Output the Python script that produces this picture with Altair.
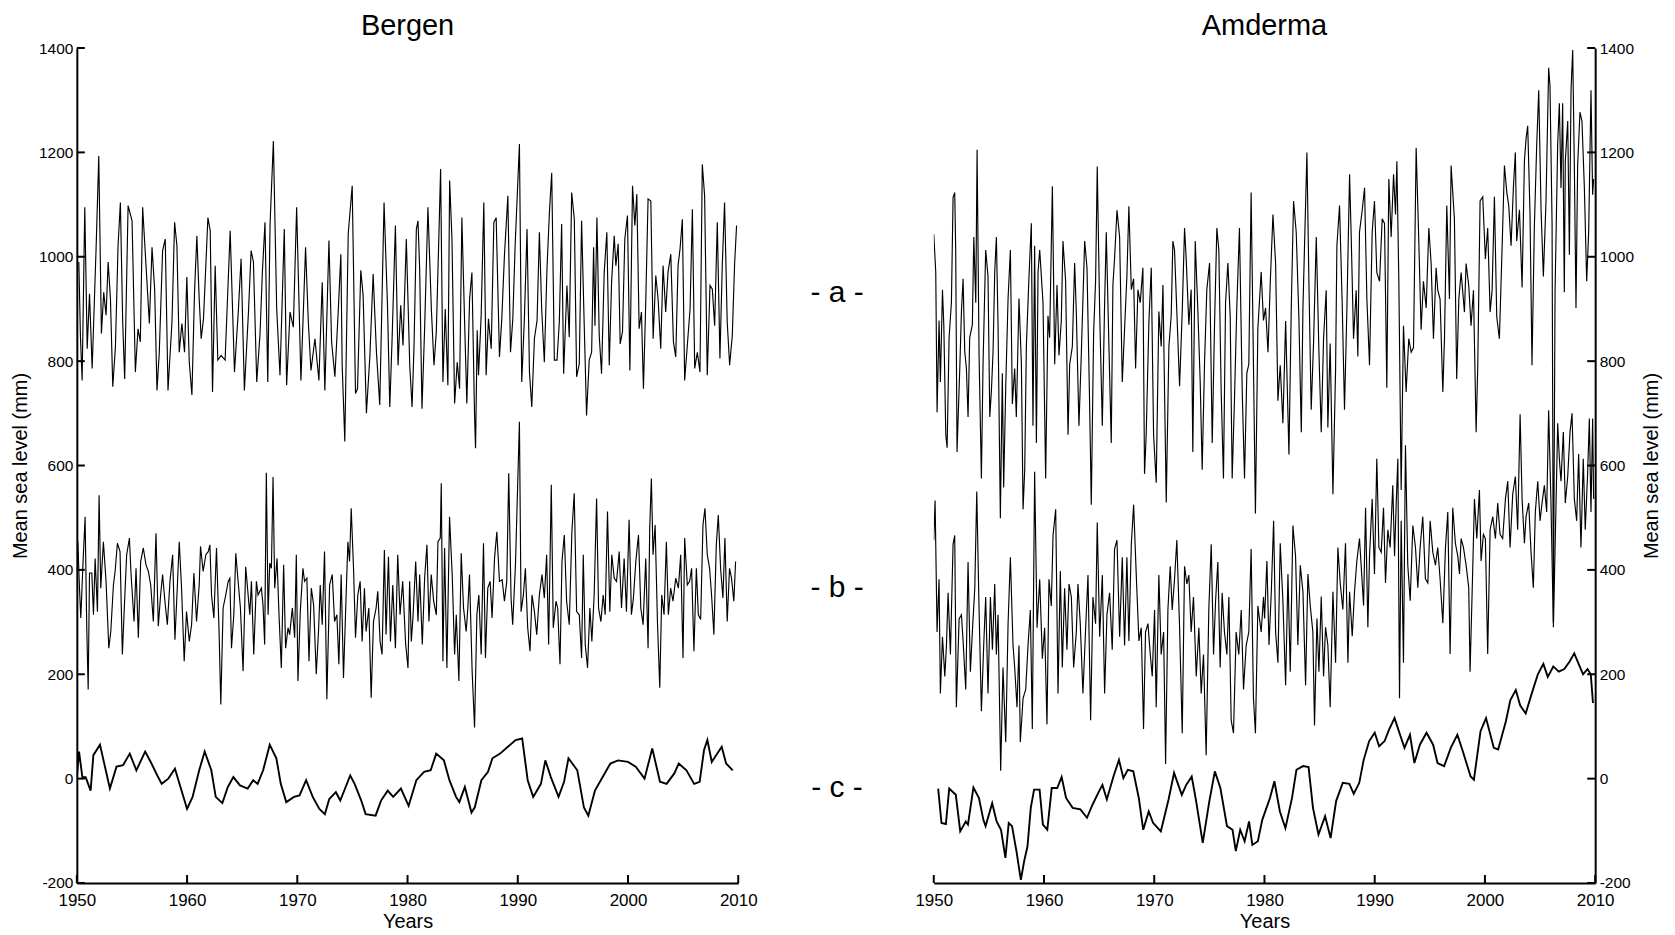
import altair as alt
import pandas as pd

# ---------------- axis values ----------------
year_ticks = [1950, 1960, 1970, 1980, 1990, 2000, 2010]
level_ticks = [-200, 0, 200, 400, 600, 800, 1000, 1200, 1400]
panel_titles = ["Bergen", "Amderma"]
curve_labels = ["- a -", "- b -", "- c -"]
curve_label_levels = [931, 366, -18]

# ---------------- Bergen ----------------
bergen_a_years = [1950.18, 1950.33, 1950.48, 1950.72, 1950.94, 1951.15, 1951.39, 1951.75, 1951.99, 1952.23, 1952.44, 1952.65, 1952.84, 1953.05, 1953.26, 1953.50, 1953.74, 1953.95, 1954.16, 1954.34, 1954.65, 1955.01, 1955.31, 1955.55, 1955.76, 1955.97, 1956.58, 1956.82, 1957.06, 1957.27, 1957.48, 1957.78, 1958.02, 1958.27, 1958.63, 1958.87, 1959.08, 1959.29, 1959.53, 1959.77, 1959.98, 1960.20, 1960.44, 1960.68, 1960.89, 1961.10, 1961.28, 1961.49, 1961.89, 1962.10, 1962.31, 1962.55, 1962.79, 1963.09, 1963.45, 1963.91, 1964.30, 1964.66, 1964.90, 1965.20, 1965.57, 1965.81, 1966.02, 1966.32, 1966.62, 1966.83, 1967.07, 1967.32, 1967.53, 1967.83, 1968.13, 1968.43, 1968.82, 1969.03, 1969.34, 1969.64, 1969.94, 1970.33, 1970.75, 1971.00, 1971.24, 1971.60, 1971.96, 1972.26, 1972.50, 1972.87, 1973.11, 1973.41, 1973.71, 1973.95, 1974.07, 1974.31, 1974.62, 1974.98, 1975.28, 1975.46, 1975.76, 1975.97, 1976.27, 1976.58, 1976.88, 1977.18, 1977.48, 1977.87, 1978.18, 1978.39, 1978.60, 1978.90, 1979.14, 1979.38, 1979.59, 1979.89,
                  1980.20, 1980.41, 1980.59, 1980.80, 1980.95, 1981.10, 1981.31, 1981.55, 1981.85, 1982.16, 1982.40, 1982.61, 1982.82, 1983.00, 1983.21, 1983.42, 1983.66, 1983.82, 1984.03, 1984.27, 1984.51, 1984.72, 1984.93, 1985.17, 1985.38, 1985.63, 1985.84, 1986.08, 1986.17, 1986.32, 1986.44, 1986.68, 1986.92, 1987.13, 1987.34, 1987.59, 1987.83, 1988.04, 1988.34, 1988.55, 1988.79, 1989.10, 1989.34, 1989.55, 1989.76, 1990.15, 1990.36, 1990.60, 1990.84, 1991.06, 1991.27, 1991.51, 1991.75, 1991.96, 1992.17, 1992.41, 1992.65, 1992.87, 1993.08, 1993.32, 1993.56, 1993.77, 1993.98, 1994.16, 1994.46, 1994.67, 1994.89, 1995.13, 1995.34, 1995.58, 1995.79, 1996.03, 1996.24, 1996.48, 1996.70, 1996.88, 1997.00, 1997.18, 1997.39, 1997.60, 1997.84, 1998.08, 1998.30, 1998.51, 1998.75, 1998.90, 1999.11, 1999.29, 1999.50, 1999.71, 1999.95, 2000.17, 2000.41, 2000.62, 2000.80, 2001.01, 2001.22, 2001.40, 2001.61, 2001.82, 2002.07, 2002.28, 2002.52, 2002.73, 2002.97, 2003.18, 2003.42, 2003.63, 2003.88, 2004.12, 2004.33, 2004.54, 2004.72, 2004.93, 2005.14, 2005.38, 2005.63, 2005.84, 2006.05, 2006.29, 2006.53, 2006.74, 2006.95, 2007.19, 2007.44, 2007.65, 2007.86, 2008.10, 2008.34, 2008.55, 2008.76, 2009.00, 2009.22, 2009.46, 2009.67, 2009.85]
bergen_a_values = [990, 846, 763, 1095, 824, 929, 786, 1018, 1193, 853, 932, 888, 990, 919, 751, 827, 1021, 1104, 875, 766, 1098, 1069, 779, 862, 837, 1095, 872, 1018, 938, 744, 817, 1012, 1034, 744, 875, 1066, 1021, 817, 872, 817, 961, 798, 735, 935, 1040, 919, 843, 881, 1075, 1050, 741, 983, 802, 811, 802, 1050, 779, 900, 996, 744, 894, 1012, 990, 760, 853, 970, 1066, 760, 1063, 1222, 900, 773, 1053, 754, 894, 865, 1095, 763, 1018, 875, 782, 843, 763, 951, 744, 1031, 837, 770, 894, 1005, 792, 646, 1044, 1136, 738, 747, 974, 926, 700, 808, 967, 817, 716, 1104, 907, 712, 843, 1060, 792, 907, 830, 1034,
                   792, 712, 830, 1053, 1069, 977, 709, 862, 1095, 900, 792, 856, 1021, 1168, 760, 900, 754, 1146, 1034, 719, 798, 747, 1075, 881, 719, 919, 970, 696, 633, 859, 773, 888, 1104, 773, 881, 824, 1066, 1075, 808, 881, 1002, 1117, 817, 881, 1021, 1216, 760, 881, 1053, 779, 712, 843, 878, 1047, 900, 798, 977, 1085, 1161, 802, 802, 875, 1063, 776, 945, 846, 1123, 1072, 770, 795, 1069, 868, 696, 802, 817, 1018, 868, 1075, 849, 776, 970, 1047, 792, 951, 1040, 983, 1025, 833, 856, 1034, 1079, 782, 1136, 1060, 1120, 862, 894, 747, 913, 1111, 1107, 843, 964, 919, 824, 983, 894, 970, 1005, 837, 808, 983, 1015, 1072, 763, 830, 900, 1091, 786, 817, 779, 1177, 1117, 773, 945, 938, 868, 1066, 805, 983, 1104, 875, 792, 849, 986, 1060]

bergen_b_years = [1950.09, 1950.24, 1950.36, 1950.54, 1950.75, 1950.90, 1951.03, 1951.15, 1951.36, 1951.51, 1951.66, 1951.87, 1952.02, 1952.17, 1952.41, 1952.65, 1952.90, 1953.08, 1953.32, 1953.47, 1953.68, 1953.92, 1954.13, 1954.28, 1954.52, 1954.77, 1954.92, 1955.19, 1955.37, 1955.58, 1955.79, 1956.03, 1956.27, 1956.49, 1956.70, 1956.94, 1957.18, 1957.39, 1957.60, 1957.78, 1957.99, 1958.21, 1958.45, 1958.69, 1958.90, 1959.11, 1959.29, 1959.50, 1959.74, 1959.95, 1960.20, 1960.41, 1960.62, 1960.86, 1961.10, 1961.22, 1961.46, 1961.70, 1961.92, 1962.07, 1962.22, 1962.43, 1962.67, 1962.91, 1963.06, 1963.27, 1963.51, 1963.73, 1963.88, 1964.03, 1964.24, 1964.42, 1964.63, 1964.84, 1965.08, 1965.32, 1965.54, 1965.69, 1965.84, 1966.05, 1966.29, 1966.44, 1966.74, 1966.89, 1967.04, 1967.19, 1967.35, 1967.50, 1967.65, 1967.80, 1967.95, 1968.16, 1968.34, 1968.55, 1968.76, 1968.94, 1969.16, 1969.31, 1969.55, 1969.76, 1969.91, 1970.06, 1970.27, 1970.51, 1970.66, 1970.87, 1971.06, 1971.27, 1971.48, 1971.72, 1971.93, 1972.08, 1972.26, 1972.47, 1972.68, 1972.93, 1973.17, 1973.38, 1973.59, 1973.77, 1973.98, 1974.19, 1974.43, 1974.59, 1974.74, 1974.89, 1975.10, 1975.28, 1975.49, 1975.70, 1975.88, 1976.09, 1976.24, 1976.49, 1976.70, 1976.91, 1977.15, 1977.30, 1977.51, 1977.69, 1977.90, 1978.05, 1978.27, 1978.45, 1978.66, 1978.90, 1979.11, 1979.32, 1979.56,
                  1979.83, 1980.04, 1980.19, 1980.34, 1980.49, 1980.74, 1980.95, 1981.10, 1981.34, 1981.55, 1981.76, 1981.94, 1982.15, 1982.37, 1982.61, 1982.76, 1982.97, 1983.06, 1983.21, 1983.36, 1983.57, 1983.81, 1984.05, 1984.27, 1984.42, 1984.66, 1984.87, 1985.08, 1985.32, 1985.47, 1985.62, 1985.86, 1986.08, 1986.29, 1986.47, 1986.68, 1986.89, 1987.07, 1987.28, 1987.49, 1987.67, 1987.89, 1988.10, 1988.34, 1988.58, 1988.79, 1989.00, 1989.18, 1989.39, 1989.54, 1989.79, 1990.15, 1990.30, 1990.51, 1990.69, 1990.90, 1991.11, 1991.29, 1991.51, 1991.72, 1991.96, 1992.20, 1992.41, 1992.62, 1992.80, 1993.04, 1993.22, 1993.47, 1993.62, 1993.83, 1994.01, 1994.22, 1994.43, 1994.67, 1994.91, 1995.12, 1995.34, 1995.58, 1995.79, 1995.94, 1996.12, 1996.33, 1996.54, 1996.72, 1996.93, 1997.15, 1997.33, 1997.54, 1997.75, 1997.93, 1998.14, 1998.35, 1998.53, 1998.75, 1998.96, 1999.20, 1999.41, 1999.65, 1999.86, 2000.10, 2000.31, 2000.49, 2000.71, 2000.95, 2001.16, 2001.37, 2001.61, 2001.82, 2001.97, 2002.12, 2002.27, 2002.46, 2002.67, 2002.88, 2003.06, 2003.27, 2003.48, 2003.66, 2003.87, 2004.08, 2004.33, 2004.57, 2004.78, 2004.99, 2005.14, 2005.38, 2005.59, 2005.77, 2005.98, 2006.20, 2006.38, 2006.59, 2006.80, 2006.98, 2007.19, 2007.40, 2007.58, 2007.79, 2008.01, 2008.19, 2008.40, 2008.61, 2008.79, 2009.00, 2009.21, 2009.39, 2009.60, 2009.76]
bergen_b_values = [454, 365, 308, 403, 502, 289, 171, 394, 394, 314, 422, 320, 543, 365, 454, 378, 250, 282, 371, 397, 451, 435, 238, 314, 429, 461, 391, 301, 403, 270, 416, 442, 410, 397, 371, 301, 470, 292, 352, 391, 340, 295, 378, 429, 266, 365, 454, 365, 225, 320, 263, 295, 394, 301, 371, 445, 397, 429, 435, 448, 352, 308, 442, 276, 142, 327, 352, 378, 384, 250, 314, 432, 378, 327, 206, 406, 352, 314, 378, 238, 378, 352, 365, 333, 257, 586, 314, 413, 403, 578, 365, 422, 314, 212, 410, 250, 289, 276, 327, 270, 429, 187, 320, 403, 378, 384, 225, 365, 333, 200, 285, 371, 295, 435, 152, 371, 391, 301, 314, 219, 391, 193, 352, 454, 416, 518, 403, 270, 352, 378, 263, 365, 282, 327, 155, 301, 327, 359, 263, 238, 438, 276, 425, 263, 371, 250, 429, 314, 378,
                   257, 212, 378, 263, 308, 416, 301, 391, 257, 384, 448, 301, 391, 340, 314, 454, 461, 566, 225, 442, 212, 502, 391, 238, 314, 187, 432, 327, 282, 327, 391, 206, 98, 314, 352, 238, 451, 231, 365, 378, 308, 422, 473, 378, 381, 340, 378, 585, 346, 295, 410, 684, 320, 352, 403, 289, 244, 352, 320, 276, 352, 391, 346, 429, 257, 563, 289, 340, 327, 219, 416, 467, 340, 295, 473, 547, 320, 314, 231, 429, 257, 212, 327, 263, 352, 537, 327, 301, 352, 314, 512, 320, 429, 384, 378, 435, 327, 422, 320, 496, 314, 346, 416, 467, 327, 295, 422, 250, 480, 575, 429, 486, 301, 174, 352, 314, 454, 314, 365, 340, 384, 365, 429, 231, 461, 371, 378, 403, 244, 403, 314, 305, 486, 518, 429, 403, 352, 276, 448, 505, 403, 346, 461, 301, 403, 384, 340, 416]

bergen_c_years = [1950.0, 1950.2, 1950.5, 1950.8, 1951.25, 1951.5, 1952.1, 1953.0, 1953.6, 1954.2, 1954.8, 1955.4, 1956.2, 1956.7, 1957.3, 1957.7, 1958.3, 1958.9, 1959.4, 1960.0, 1960.5, 1961.1, 1961.6, 1962.2, 1962.6, 1963.2, 1963.7, 1964.2, 1964.8, 1965.5, 1966.0, 1966.4, 1966.9, 1967.5, 1968.1, 1968.5, 1969.0, 1969.7, 1970.2, 1970.8, 1971.4, 1972.0, 1972.5, 1972.9, 1973.5, 1973.9, 1974.8, 1975.2, 1975.8, 1976.2, 1977.1, 1977.6, 1978.2, 1978.7, 1979.4, 1980.1, 1980.8, 1981.5, 1982.1, 1982.6, 1983.3, 1983.8, 1984.4, 1984.7, 1985.2, 1985.8, 1986.1, 1986.7, 1987.3, 1987.7, 1988.4, 1989.1, 1989.8, 1990.4, 1990.9, 1991.4, 1992.1, 1992.5, 1993.0, 1993.7, 1994.2, 1994.6, 1995.4, 1996.0, 1996.4, 1997.0, 1997.7, 1998.4, 1999.1, 2000.0, 2000.7, 2001.5, 2002.2, 2002.9, 2003.5, 2004.2, 2004.6, 2005.3, 2006.0, 2006.5, 2006.9, 2007.2, 2007.6, 2008.1, 2008.5, 2008.9, 2009.5]
bergen_c_values = [3, 52, 3, 3, -23, 45, 65, -19, 23, 26, 48, 16, 52, 32, 6, -10, 0, 19, -16, -58, -35, 16, 52, 16, -35, -47, -16, 3, -13, -19, -3, -10, 16, 65, 39, -10, -45, -35, -32, -3, -35, -58, -68, -39, -26, -42, 6, -10, -42, -68, -71, -42, -23, -35, -19, -52, -3, 13, 16, 48, 35, -3, -35, -45, -16, -65, -55, -3, 13, 39, 48, 61, 74, 77, -3, -35, -10, 35, 3, -35, -6, 39, 16, -55, -71, -23, 3, 29, 35, 32, 23, 0, 58, -6, -10, 10, 29, 16, -10, -6, 55, 74, 32, 48, 61, 29, 16]

# ---------------- Amderma ----------------
amderma_a_years = [1950.00, 1950.18, 1950.30, 1950.48, 1950.60, 1950.79, 1950.91, 1951.09, 1951.21, 1951.39, 1951.60, 1951.75, 1951.90, 1951.99, 1952.11, 1952.36, 1952.51, 1952.66, 1952.81, 1952.96, 1953.11, 1953.26, 1953.50, 1953.63, 1953.81, 1953.93, 1954.11, 1954.32, 1954.47, 1954.71, 1954.92, 1955.08, 1955.23, 1955.38, 1955.53, 1955.68, 1955.83, 1956.04, 1956.22, 1956.34, 1956.53, 1956.74, 1956.95, 1957.13, 1957.34, 1957.49, 1957.73, 1957.95, 1958.10, 1958.25, 1958.40, 1958.64, 1958.85, 1959.00, 1959.15, 1959.31, 1959.46, 1959.61, 1959.91, 1960.15, 1960.36, 1960.51, 1960.76, 1960.97, 1961.18, 1961.36, 1961.57, 1961.72, 1961.96, 1962.18, 1962.33, 1962.57, 1962.78, 1962.93, 1963.17, 1963.38, 1963.69, 1963.90, 1964.14, 1964.29, 1964.50, 1964.68, 1964.83, 1965.05, 1965.29, 1965.50, 1965.65, 1965.89, 1966.10, 1966.25, 1966.40, 1966.62, 1966.86, 1967.10, 1967.31, 1967.52, 1967.70, 1967.92, 1968.13, 1968.31, 1968.52, 1968.73, 1968.97, 1969.12, 1969.27, 1969.52, 1969.73, 1969.94, 1970.18, 1970.42, 1970.63, 1970.79, 1971.09, 1971.33, 1971.54, 1971.69, 1971.84, 1972.05, 1972.30, 1972.54, 1972.75, 1972.90, 1973.14, 1973.35, 1973.50, 1973.72, 1973.96, 1974.17, 1974.35, 1974.56, 1974.77, 1975.02, 1975.26, 1975.47, 1975.68, 1975.86, 1976.07, 1976.28, 1976.47, 1976.68, 1976.89, 1977.07, 1977.28, 1977.49, 1977.73, 1977.98, 1978.19, 1978.40, 1978.58, 1978.79, 1979.00, 1979.18, 1979.40, 1979.70, 1979.91,
                   1980.10, 1980.32, 1980.53, 1980.77, 1981.01, 1981.22, 1981.43, 1981.67, 1981.92, 1982.22, 1982.43, 1982.64, 1982.88, 1983.12, 1983.34, 1983.49, 1983.85, 1984.03, 1984.24, 1984.45, 1984.70, 1984.94, 1985.15, 1985.36, 1985.60, 1985.75, 1985.96, 1986.21, 1986.45, 1986.57, 1986.81, 1987.05, 1987.26, 1987.48, 1987.72, 1987.87, 1988.08, 1988.32, 1988.47, 1988.62, 1988.87, 1989.08, 1989.29, 1989.53, 1989.77, 1989.98, 1990.19, 1990.44, 1990.68, 1990.89, 1991.10, 1991.28, 1991.49, 1991.71, 1991.89, 1992.01, 1992.19, 1992.40, 1992.61, 1992.85, 1993.09, 1993.31, 1993.52, 1993.76, 1994.00, 1994.21, 1994.42, 1994.67, 1994.91, 1995.12, 1995.33, 1995.57, 1995.72, 1995.93, 1996.18, 1996.33, 1996.54, 1996.78, 1996.93, 1997.23, 1997.44, 1997.63, 1997.84, 1998.14, 1998.29, 1998.53, 1998.74, 1998.96, 1999.20, 1999.35, 1999.56, 1999.80, 2000.04, 2000.25, 2000.47, 2000.65, 2000.86, 2001.07, 2001.31, 2001.55, 2001.77, 2001.98, 2002.16, 2002.37, 2002.58, 2002.76, 2002.88, 2003.13, 2003.37, 2003.58, 2003.73, 2003.88, 2004.09, 2004.27, 2004.48, 2004.70, 2004.88, 2005.09, 2005.30, 2005.54, 2005.78, 2005.90, 2006.09, 2006.21, 2006.36, 2006.60, 2006.75, 2006.90, 2007.05, 2007.20, 2007.29, 2007.51, 2007.66, 2007.81, 2007.96, 2008.11, 2008.26, 2008.41, 2008.62, 2008.80, 2009.02, 2009.23, 2009.41, 2009.62, 2009.77, 2009.86]
amderma_a_values = [1043, 971, 702, 878, 760, 937, 870, 659, 634, 845, 912, 1114, 1123, 1013, 626, 786, 895, 958, 819, 786, 693, 845, 870, 1038, 912, 1205, 811, 575, 794, 1013, 963, 693, 744, 819, 971, 1038, 870, 499, 777, 558, 752, 920, 1013, 718, 786, 693, 920, 794, 516, 592, 828, 963, 1064, 676, 1021, 643, 971, 1013, 912, 575, 887, 845, 1135, 794, 946, 811, 878, 1030, 954, 659, 794, 828, 988, 895, 676, 811, 1030, 979, 718, 525, 853, 954, 1173, 895, 676, 912, 1047, 828, 643, 946, 996, 1089, 1038, 760, 862, 963, 1097, 937, 958, 786, 937, 912, 979, 584, 659, 878, 979, 659, 567, 895, 828, 946, 529, 828, 887, 1030, 1013, 895, 752, 895, 1055, 996, 870, 937, 626, 1030, 895, 760, 592, 794, 937, 988, 643, 870, 1055, 1013, 744, 575, 912, 988, 887, 575, 727, 904, 1055, 744, 575, 777, 794, 1123, 794, 508, 862, 971, 878,
                    902, 817, 953, 1081, 987, 724, 792, 681, 877, 621, 902, 1107, 1047, 885, 664, 902, 1200, 953, 707, 834, 1038, 817, 664, 843, 936, 673, 834, 545, 783, 1021, 1098, 911, 707, 902, 1158, 1038, 843, 936, 809, 1047, 1090, 1132, 919, 792, 1047, 1107, 970, 953, 1073, 1064, 749, 1149, 1038, 1158, 1081, 1183, 953, 553, 868, 741, 843, 817, 826, 1209, 1030, 860, 953, 902, 1055, 987, 843, 979, 936, 919, 741, 843, 1098, 919, 1175, 1073, 766, 919, 970, 894, 987, 945, 868, 936, 664, 792, 1107, 1115, 996, 1055, 894, 936, 1115, 885, 843, 1013, 1175, 1124, 1098, 1021, 1132, 1200, 1030, 1090, 941, 1183, 1226, 1251, 1081, 792, 1055, 1217, 1319, 1090, 962, 1107, 1362, 1328, 1064, 300, 932, 1217, 1294, 1132, 1294, 932, 1183, 1260, 1004, 1319, 1396, 1175, 902, 1175, 1277, 1260, 1132, 953, 1047, 1319, 1119, 1149]

amderma_b_years = [1950.00, 1950.12, 1950.30, 1950.48, 1950.60, 1950.79, 1951.00, 1951.15, 1951.30, 1951.51, 1951.75, 1951.90, 1952.05, 1952.30, 1952.51, 1952.66, 1952.90, 1953.11, 1953.32, 1953.50, 1953.72, 1953.90, 1954.11, 1954.32, 1954.53, 1954.71, 1954.92, 1955.14, 1955.32, 1955.53, 1955.68, 1955.83, 1956.07, 1956.28, 1956.53, 1956.74, 1956.95, 1957.19, 1957.34, 1957.55, 1957.73, 1957.85, 1958.10, 1958.34, 1958.55, 1958.76, 1958.94, 1959.15, 1959.37, 1959.61, 1959.85, 1960.06, 1960.27, 1960.45, 1960.66, 1960.82, 1961.06, 1961.27, 1961.48, 1961.66, 1961.87, 1962.08, 1962.27, 1962.48, 1962.69, 1962.93, 1963.08, 1963.29, 1963.53, 1963.78, 1963.99, 1964.23, 1964.44, 1964.68, 1964.83, 1965.05, 1965.29, 1965.50, 1965.71, 1965.95, 1966.19, 1966.40, 1966.62, 1966.86, 1967.10, 1967.31, 1967.52, 1967.70, 1967.92, 1968.13, 1968.37, 1968.61, 1968.82, 1969.03, 1969.21, 1969.43, 1969.64, 1969.82, 1970.03, 1970.18, 1970.42, 1970.63, 1970.85, 1971.03, 1971.24, 1971.45, 1971.63, 1971.84, 1972.05, 1972.30, 1972.54, 1972.75, 1972.96, 1973.14, 1973.35, 1973.56, 1973.81, 1974.05, 1974.26, 1974.47, 1974.71, 1974.95, 1975.17, 1975.38, 1975.56, 1975.77, 1975.98, 1976.16, 1976.37, 1976.59, 1976.77, 1976.98, 1977.19, 1977.43, 1977.67, 1977.89, 1978.10, 1978.34, 1978.58, 1978.79, 1979.00, 1979.18, 1979.40, 1979.70, 1979.91,
                   1980.01, 1980.22, 1980.41, 1980.62, 1980.83, 1981.01, 1981.22, 1981.43, 1981.67, 1981.92, 1982.13, 1982.34, 1982.58, 1982.82, 1983.03, 1983.25, 1983.49, 1983.73, 1983.94, 1984.15, 1984.39, 1984.54, 1984.76, 1984.94, 1985.15, 1985.36, 1985.54, 1985.75, 1985.96, 1986.21, 1986.45, 1986.66, 1986.87, 1987.11, 1987.35, 1987.57, 1987.72, 1987.96, 1988.17, 1988.38, 1988.62, 1988.77, 1988.99, 1989.17, 1989.38, 1989.53, 1989.77, 1989.98, 1990.19, 1990.38, 1990.59, 1990.80, 1990.98, 1991.19, 1991.40, 1991.64, 1991.80, 1991.95, 1992.10, 1992.25, 1992.40, 1992.61, 1992.79, 1993.00, 1993.22, 1993.46, 1993.70, 1993.91, 1994.12, 1994.36, 1994.60, 1994.82, 1995.03, 1995.27, 1995.51, 1995.72, 1995.93, 1996.18, 1996.42, 1996.63, 1996.84, 1997.08, 1997.32, 1997.54, 1997.69, 1997.84, 1998.05, 1998.29, 1998.53, 1998.65, 1998.84, 1999.05, 1999.26, 1999.50, 1999.65, 1999.86, 2000.04, 2000.25, 2000.47, 2000.71, 2000.95, 2001.16, 2001.37, 2001.61, 2001.86, 2002.07, 2002.28, 2002.52, 2002.76, 2002.97, 2003.19, 2003.37, 2003.58, 2003.73, 2003.97, 2004.18, 2004.39, 2004.57, 2004.79, 2005.00, 2005.18, 2005.39, 2005.60, 2005.78, 2005.99, 2006.21, 2006.45, 2006.60, 2006.75, 2006.90, 2007.11, 2007.29, 2007.51, 2007.72, 2007.90, 2008.11, 2008.32, 2008.50, 2008.71, 2008.92, 2009.10, 2009.32, 2009.47, 2009.62, 2009.77, 2009.86]
amderma_b_values = [457, 533, 281, 382, 163, 272, 196, 255, 356, 238, 449, 466, 137, 306, 314, 264, 171, 415, 205, 281, 365, 550, 323, 129, 255, 348, 163, 348, 247, 373, 238, 314, 15, 213, 70, 297, 424, 255, 213, 137, 255, 70, 154, 171, 255, 323, 95, 588, 289, 382, 230, 289, 104, 382, 331, 466, 516, 163, 398, 213, 365, 247, 373, 348, 213, 281, 373, 297, 163, 289, 390, 112, 348, 297, 491, 272, 390, 163, 314, 356, 247, 440, 457, 272, 424, 255, 424, 264, 449, 525, 390, 264, 289, 95, 281, 297, 238, 196, 323, 137, 390, 238, 281, 28, 323, 407, 323, 382, 457, 289, 87, 407, 373, 390, 281, 348, 196, 289, 163, 238, 45, 323, 449, 238, 339, 415, 213, 356, 281, 238, 348, 112, 87, 281, 238, 323, 171, 255, 281, 440, 154, 87, 331, 281, 348,
                    307, 417, 256, 358, 494, 281, 222, 451, 341, 179, 392, 205, 485, 426, 256, 409, 358, 179, 392, 332, 281, 102, 307, 205, 349, 196, 290, 256, 137, 358, 222, 443, 375, 324, 451, 222, 358, 273, 358, 417, 460, 409, 332, 519, 290, 426, 536, 392, 613, 443, 434, 519, 375, 477, 443, 562, 426, 528, 613, 154, 494, 222, 639, 409, 341, 485, 443, 366, 443, 502, 383, 375, 494, 434, 409, 443, 383, 298, 443, 511, 239, 519, 451, 426, 392, 460, 443, 409, 366, 205, 358, 536, 460, 553, 417, 468, 460, 239, 477, 502, 460, 528, 468, 460, 536, 570, 443, 545, 579, 477, 698, 536, 451, 502, 528, 434, 366, 511, 570, 494, 528, 562, 511, 706, 528, 290, 528, 681, 613, 570, 664, 528, 579, 664, 700, 536, 494, 622, 443, 613, 477, 587, 690, 511, 690, 536]

amderma_c_years = [1950.4, 1950.7, 1951.1, 1951.4, 1952.0, 1952.4, 1952.9, 1953.1, 1953.6, 1954.1, 1954.5, 1954.7, 1955.3, 1955.7, 1956.1, 1956.5, 1956.8, 1957.1, 1957.5, 1957.9, 1958.2, 1958.5, 1958.8, 1959.1, 1959.6, 1959.9, 1960.3, 1960.7, 1961.2, 1961.6, 1962.0, 1962.6, 1963.3, 1963.9, 1964.4, 1965.0, 1965.3, 1965.7, 1966.3, 1966.8, 1967.2, 1967.6, 1968.1, 1968.6, 1969.0, 1969.5, 1969.9, 1970.6, 1971.3, 1971.8, 1972.5, 1972.9, 1973.4, 1973.8, 1974.4, 1975.0, 1975.5, 1976.0, 1976.6, 1977.1, 1977.4, 1977.8, 1978.2, 1978.6, 1978.9, 1979.4, 1979.8, 1980.5, 1980.9, 1981.4, 1981.9, 1982.5, 1982.9, 1983.5, 1984.0, 1984.4, 1984.9, 1985.5, 1986.0, 1986.5, 1987.1, 1987.7, 1988.1, 1988.6, 1989.0, 1989.5, 1990.0, 1990.4, 1990.9, 1991.3, 1991.8, 1992.3, 1992.7, 1993.2, 1993.6, 1994.1, 1994.7, 1995.3, 1995.7, 1996.3, 1996.9, 1997.5, 1998.0, 1998.7, 1999.0, 1999.6, 2000.1, 2000.8, 2001.2, 2001.9, 2002.3, 2002.8, 2003.2, 2003.7, 2004.2, 2004.8, 2005.3, 2005.7, 2006.2, 2006.7, 2007.2, 2007.7, 2008.1, 2008.5, 2008.9, 2009.3, 2009.6, 2009.8]
amderma_c_values = [-19, -85, -87, -19, -31, -101, -82, -88, -17, -37, -79, -91, -47, -82, -98, -152, -85, -91, -139, -194, -158, -130, -56, -21, -21, -88, -98, -18, -18, 3, -37, -56, -59, -75, -50, -24, -12, -40, 4, 36, 1, 17, 14, -37, -98, -63, -85, -101, -40, 11, -31, -12, 4, -43, -123, -43, 14, -18, -91, -98, -139, -98, -120, -82, -127, -120, -79, -37, -5, -63, -95, -37, 17, 24, 22, -56, -107, -72, -114, -43, -8, -10, -29, -8, 36, 72, 88, 62, 72, 94, 116, 84, 59, 84, 30, 65, 88, 65, 30, 24, 59, 84, 52, 4, -2, 91, 116, 59, 56, 110, 150, 170, 140, 125, 160, 200, 220, 195, 215, 205, 210, 225, 240, 220, 200, 210, 200, 145]

# ---------------- chart building ----------------
FONT = "Liberation Sans"
W, H = 663, 837
x_scale = alt.Scale(domain=[1950, 2010], nice=False, zero=False)
y_scale = alt.Scale(domain=[-200, 1400], nice=False, zero=False)
PLAIN_LABEL = "'' + datum.value"   # ASCII hyphen for negatives


def x_axis():
    return alt.Axis(values=year_ticks, title="Years", tickSize=0,
                    labelExpr=PLAIN_LABEL,
                    labelPadding=10, labelFontSize=17, titleFontSize=20,
                    titleFontWeight="normal", titlePadding=3, domainWidth=2,
                    domainColor="black", labelColor="black", titleColor="black",
                    grid=False, labelFlush=False, labelOverlap=False,
                    labelFont=FONT, titleFont=FONT)


def y_axis(orient):
    extra = {}
    if orient == "right":
        extra = dict(titleAngle=-90, titleBaseline="top")
    return alt.Axis(orient=orient, values=level_ticks,
                    labelExpr=PLAIN_LABEL,
                    title="Mean sea level (mm)", tickSize=0, labelPadding=4,
                    labelFontSize=15.5, titleFontSize=20, titleFontWeight="normal",
                    titlePadding=8, domainWidth=2, domainColor="black",
                    labelColor="black", titleColor="black", grid=False,
                    labelFlush=False, labelOverlap=False,
                    labelFont=FONT, titleFont=FONT, **extra)


def enc_x(field):
    return alt.X(field, type="quantitative", scale=x_scale, axis=x_axis())


def enc_y(field, orient):
    return alt.Y(field, type="quantitative", scale=y_scale, axis=y_axis(orient))


def series(years, values, width, orient):
    df = pd.DataFrame({"year": years, "level": values})
    return alt.Chart(df).mark_line(color="black", strokeWidth=width, clip=True).encode(
        x=enc_x("year"), y=enc_y("level", orient))


def inward_ticks(orient):
    ydf = pd.DataFrame({"level": level_ticks})
    xdf = pd.DataFrame({"year": year_ticks})
    if orient == "left":
        x0, x1 = alt.value(0), alt.value(8)
    else:
        x0, x1 = alt.value(W - 8), alt.value(W)
    yt = alt.Chart(ydf).mark_rule(color="black", strokeWidth=2).encode(
        y=enc_y("level", orient), x=x0, x2=x1)
    xt = alt.Chart(xdf).mark_rule(color="black", strokeWidth=2).encode(
        x=enc_x("year"), y=alt.value(H), y2=alt.value(H - 8))
    return [yt, xt]


def panel(name, ay, av, by, bv, cy, cv, orient, labels=False):
    layers = [
        series(ay, av, 1.15, orient),
        series(by, bv, 1.15, orient),
        series(cy, cv, 1.9, orient),
    ] + inward_ticks(orient)
    if labels:
        ldf = pd.DataFrame({"label": curve_labels, "level": curve_label_levels})
        layers.append(
            alt.Chart(ldf).mark_text(font=FONT, fontSize=30, color="black",
                                     align="center", baseline="middle").encode(
                y=enc_y("level", orient), x=alt.value(762), text="label:N")
        )
    return alt.layer(*layers).properties(
        width=W, height=H,
        title=alt.TitleParams(name, fontSize=29, font=FONT, fontWeight="normal",
                              anchor="middle", offset=0, color="black"),
    )


left = panel(panel_titles[0], bergen_a_years, bergen_a_values, bergen_b_years, bergen_b_values,
             bergen_c_years, bergen_c_values, "left", labels=True)
right = panel(panel_titles[1], amderma_a_years, amderma_a_values, amderma_b_years, amderma_b_values,
              amderma_c_years, amderma_c_values, "right")

chart = alt.hconcat(left, right, spacing=196, bounds="flush").properties(
    padding={"left": 2, "top": 3, "right": 5, "bottom": 5},
    background="white",
).configure_view(stroke=None)

chart.save("out.html", embed_options={"renderer": "svg", "actions": False})
